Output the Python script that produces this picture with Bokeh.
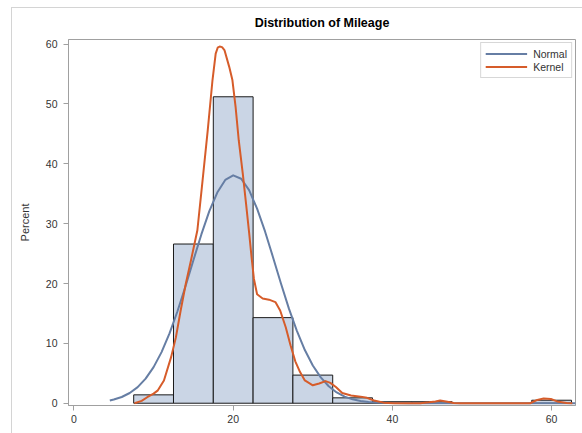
from bokeh.plotting import figure
from bokeh.models import FixedTicker, Legend, LegendItem, Title
from bokeh.embed import file_html
from bokeh.resources import INLINE

# ---- data ----
bin_left = [7.5, 12.5, 17.5, 22.5, 27.5, 32.5, 37.5, 42.5, 57.5]
bin_right = [12.5, 17.5, 22.5, 27.5, 32.5, 37.5, 42.5, 47.5, 62.5]
bin_percent = [1.4, 26.6, 51.2, 14.3, 4.7, 0.9, 0.25, 0.25, 0.5]

normal_x = [4.5, 5, 6, 7, 8, 9, 10, 11, 12, 13, 14, 15, 16, 17, 18, 19, 20,
            21, 22, 23, 24, 25, 26, 27, 28, 29, 30, 31, 32, 33, 34, 35, 36,
            37, 38, 39, 40, 42, 63]
normal_y = [0.46, 0.61, 1.04, 1.71, 2.69, 4.10, 6.03, 8.54, 11.66, 15.37,
            19.5, 23.9, 28.2, 32.1, 35.2, 37.3, 38.07, 37.5, 35.6, 32.5, 28.7,
            24.4, 20.0, 15.8, 12.1, 8.88, 6.3, 4.31, 2.84, 1.80, 1.11, 0.65,
            0.37, 0.20, 0.11, 0.06, 0.03, 0.0, 0.0]

kernel_x = [7.6, 8.5, 9.2, 10.0, 10.5, 11.3, 12.2, 12.8, 13.4, 14.05, 14.7,
            15.5, 16.15, 16.8, 17.4, 17.8, 18.05, 18.3, 18.6, 18.9, 19.5, 19.9,
            20.3, 20.7, 21.2, 21.6, 22.0, 22.3, 22.6, 23.0, 23.7, 24.5, 25.3,
            25.9, 26.6, 27.2, 27.8, 28.4, 29.0, 30.0, 30.8, 31.6, 32.2, 32.9,
            33.7, 34.8, 36.0, 36.8, 37.7, 38.9, 40.2, 43.5, 44.6, 45.4, 46.0,
            46.9, 47.7, 48.5, 57.3, 58.2, 59.0, 59.9, 60.7, 61.9, 62.6]
kernel_y = [0.0, 0.4, 1.0, 1.6, 2.1, 3.8, 7.7, 11.0, 15.5, 20.0, 23.9,
            28.9, 37.2, 45.6, 54.0, 58.4, 59.4, 59.6, 59.5, 59.0, 56.2, 54.0,
            49.5, 43.9, 38.4, 33.5, 28.5, 24.5, 20.8, 18.2, 17.5, 17.3, 16.9,
            15.5, 12.7, 9.7, 7.0, 5.2, 3.8, 3.0, 3.3, 3.7, 3.4, 2.7,
            1.7, 1.3, 1.1, 0.9, 0.45, 0.1, 0.0, 0.0, 0.15, 0.3, 0.45,
            0.25, 0.05, 0.0, 0.0, 0.55, 0.8, 0.7, 0.3, 0.05, 0.0]

x_ticks = [0, 20, 40, 60]
y_ticks = [0, 10, 20, 30, 40, 50, 60]

title_text = "Distribution of Mileage"
y_label = "Percent"
series_names = ["Normal", "Kernel"]

FONT = "Liberation Sans"
AXIS_GRAY = "#a0a0a0"

p = figure(width=570, height=425, output_backend="svg", toolbar_location=None,
           x_range=(-0.69, 63.0), y_range=(-0.38, 60.77),
           min_border_left=56, min_border_right=7, min_border_top=31,
           min_border_bottom=28, title=title_text)
p.margin = (8, 0, 0, 12)
p.styles = {"outline": "1px solid #d4d4d4"}

p.title.align = "center"
p.title.text_font = FONT
p.title.text_font_size = "12.5px"
p.title.text_font_style = "bold"
p.title.text_color = "#000000"
# empty spacer title keeps the real title a little higher above the frame
p.add_layout(Title(text=" ", text_font_size="3px", standoff=0), "above")

p.background_fill_color = "white"
p.border_fill_color = "white"
p.outline_line_color = AXIS_GRAY
p.outline_line_width = 1
p.xgrid.visible = False
p.ygrid.visible = False

p.quad(left=bin_left, right=bin_right, bottom=0, top=bin_percent,
       fill_color="#cad5e5", line_color="#1a1a1a", line_width=1)

l_norm = p.line(normal_x, normal_y, line_color="#667ea4", line_width=2,
                line_join="round")
l_kern = p.line(kernel_x, kernel_y, line_color="#d65c2a", line_width=2,
                line_join="round")

for ax in (p.xaxis[0], p.yaxis[0]):
    ax.axis_line_color = AXIS_GRAY
    ax.major_tick_line_color = AXIS_GRAY
    ax.major_tick_out = 5
    ax.major_tick_in = 0
    ax.minor_tick_line_color = None
    ax.major_label_text_font = FONT
    ax.major_label_text_font_size = "10.5px"
    ax.major_label_text_color = "#333333"

p.xaxis.ticker = FixedTicker(ticks=x_ticks)
p.yaxis.ticker = FixedTicker(ticks=y_ticks)
p.xaxis.major_label_standoff = 4
p.yaxis.major_label_standoff = 6
p.yaxis.axis_label = y_label
p.yaxis.axis_label_text_font = FONT
p.yaxis.axis_label_text_font_size = "11px"
p.yaxis.axis_label_text_font_style = "normal"
p.yaxis.axis_label_text_color = "#333333"
p.yaxis.axis_label_standoff = 12

legend = Legend(items=[LegendItem(label=series_names[0], renderers=[l_norm]),
                       LegendItem(label=series_names[1], renderers=[l_kern])],
                location="top_right")
legend.margin = 3
legend.padding = 4
legend.spacing = 0
legend.glyph_width = 42
legend.glyph_height = 13
legend.label_height = 13
legend.label_standoff = 6
legend.label_text_font = FONT
legend.label_text_font_size = "10.5px"
legend.label_text_color = "#333333"
legend.border_line_color = "#b0b0b0"
legend.background_fill_alpha = 1.0
p.add_layout(legend)

open("out.html", "w").write(file_html(p, INLINE))
